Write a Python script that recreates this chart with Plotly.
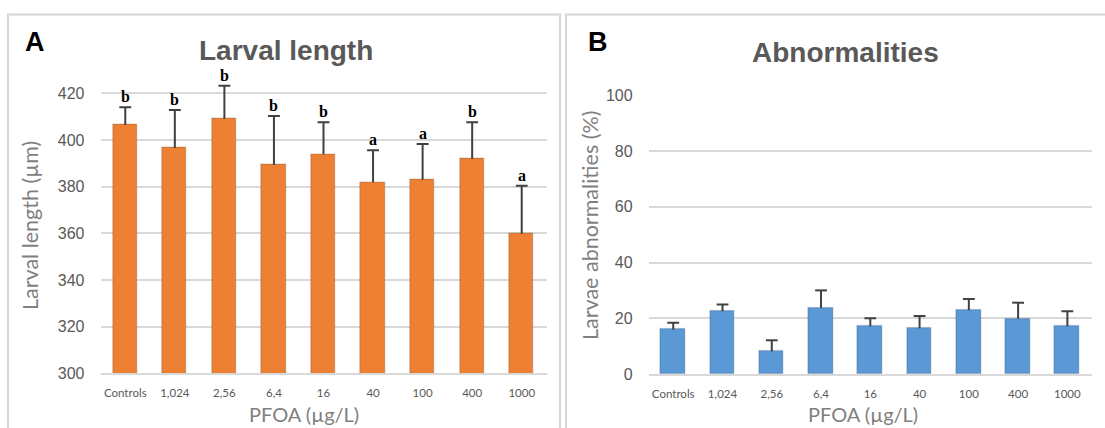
import plotly.graph_objects as go

# PFOA exposure groups
groups = ["Controls", "1,024", "2,56", "6,4", "16", "40", "100", "400", "1000"]

# Panel A: larval length (µm), mean and SD
length_mean = [406.4, 396.6, 409.1, 389.3, 393.9, 381.9, 383.0, 391.9, 359.8]
length_sd = [7.6, 16.3, 14.2, 21.0, 13.7, 13.7, 15.3, 15.7, 20.6]
length_letters = ["b", "b", "b", "b", "b", "a", "a", "b", "a"]

# Panel B: larvae with abnormalities (%), mean and SD
abn_mean = [15.9, 22.5, 8.1, 23.7, 17.1, 16.4, 22.9, 19.8, 17.1]
abn_sd = [2.5, 2.4, 4.0, 6.3, 2.9, 4.4, 4.0, 5.8, 5.4]

W, H = 1105, 428

ORANGE = "#EE8034"
BLUE = "#5A98D6"
ERR = "#404040"
GRID = "#D9D9D9"
TXT = "#595959"
TITLE_GRAY = "#7F7F7F"
CAP = 0.12  # half-width of error-bar caps, in category units

pos = list(range(len(groups)))


def px_x(v):
    return v / W


def px_y(v):
    return 1 - v / H


def err_lines(means, sds):
    xs, ys = [], []
    for i, (m, s) in enumerate(zip(means, sds)):
        top = m + s
        xs += [i, i, None, i - CAP, i + CAP, None]
        ys += [m, top, None, top, top, None]
    return xs, ys


fig = go.Figure()

# ---- Panel A ----
fig.add_trace(go.Bar(
    x=pos, y=length_mean, width=0.49, base=0,
    marker=dict(color=ORANGE, line=dict(color="rgba(0,0,0,0.12)", width=1.5)),
    xaxis="x", yaxis="y", showlegend=False,
))
ex, ey = err_lines(length_mean, length_sd)
fig.add_trace(go.Scatter(
    x=ex, y=ey, mode="lines", line=dict(color=ERR, width=2),
    xaxis="x", yaxis="y", showlegend=False, cliponaxis=False,
))

# ---- Panel B ----
fig.add_trace(go.Bar(
    x=pos, y=abn_mean, width=0.5,
    marker=dict(color=BLUE, line=dict(color="rgba(0,0,0,0.12)", width=1.5)),
    xaxis="x2", yaxis="y2", showlegend=False,
))
ex2, ey2 = err_lines(abn_mean, abn_sd)
fig.add_trace(go.Scatter(
    x=ex2, y=ey2, mode="lines", line=dict(color=ERR, width=2),
    xaxis="x2", yaxis="y2", showlegend=False, cliponaxis=False,
))

xaxis_common = dict(
    range=[-0.5, len(groups) - 0.5], tickvals=pos, ticktext=groups,
    showgrid=False, zeroline=False, showline=True, linecolor=GRID, linewidth=1.5,
    ticks="", ticklabelstandoff=8, automargin=False,
    tickfont=dict(family="Lato", size=11.5, color=TXT),
)
yaxis_common = dict(
    showgrid=True, gridcolor=GRID, gridwidth=1.5, zeroline=False, showline=False,
    ticks="", ticklabelstandoff=15, automargin=False,
    tickfont=dict(family="Liberation Sans", size=16, color=TXT),
)

fig.update_layout(
    template="none",
    width=W, height=H, margin=dict(l=0, r=0, t=0, b=0, pad=0, autoexpand=False),
    paper_bgcolor="white", plot_bgcolor="white",
    bargap=0, showlegend=False,
    xaxis=dict(domain=[px_x(100.5), px_x(546.5)], anchor="y", **xaxis_common),
    yaxis=dict(domain=[px_y(373.3), px_y(81.7)], anchor="x", range=[300, 425],
               tickvals=[300, 320, 340, 360, 380, 400, 420], **yaxis_common),
    xaxis2=dict(domain=[px_x(648.6), px_x(1092)], anchor="y2", **xaxis_common),
    yaxis2=dict(domain=[px_y(374), px_y(95.3)], anchor="x2", range=[0, 100],
                tickvals=[0, 20, 40, 60, 80, 100], **yaxis_common),
)

# Panel frames (open at the bottom / right edge of the page)
fig.add_shape(type="rect", xref="paper", yref="paper",
              x0=px_x(8), x1=px_x(560), y0=-0.2, y1=px_y(14.5),
              line=dict(color="#D6D6D6", width=2), fillcolor="rgba(0,0,0,0)", layer="below")
fig.add_shape(type="rect", xref="paper", yref="paper",
              x0=px_x(566), x1=1.2, y0=-0.2, y1=px_y(14.5),
              line=dict(color="#D6D6D6", width=2), fillcolor="rgba(0,0,0,0)", layer="below")

ann = []
# Panel letters
ann.append(dict(text="<b>A</b>", x=px_x(23), y=px_y(42), xref="paper", yref="paper",
                xanchor="left", yanchor="middle", showarrow=False,
                font=dict(family="Liberation Sans", size=27, color="black")))
ann.append(dict(text="<b>B</b>", x=px_x(586), y=px_y(42), xref="paper", yref="paper",
                xanchor="left", yanchor="middle", showarrow=False,
                font=dict(family="Liberation Sans", size=27, color="black")))
# Chart titles
ann.append(dict(text="<b>Larval length</b>", x=px_x(285.5), y=px_y(51), xref="paper", yref="paper",
                xanchor="center", yanchor="middle", showarrow=False,
                font=dict(family="Liberation Sans", size=28, color=TXT)))
ann.append(dict(text="<b>Abnormalities</b>", x=px_x(846), y=px_y(52), xref="paper", yref="paper",
                xanchor="center", yanchor="middle", showarrow=False,
                font=dict(family="Liberation Sans", size=28, color=TXT)))
# Axis titles
ann.append(dict(text="Larval length (µm)", x=px_x(30), y=px_y(226), xref="paper", yref="paper",
                xanchor="center", yanchor="middle", textangle=-90, showarrow=False,
                font=dict(family="Lato", size=21.5, color=TITLE_GRAY)))
ann.append(dict(text="Larvae abnormalities (%)", x=px_x(590), y=px_y(226), xref="paper", yref="paper",
                xanchor="center", yanchor="middle", textangle=-90, showarrow=False,
                font=dict(family="Lato", size=21.5, color=TITLE_GRAY)))
ann.append(dict(text="PFOA (µg/L)", x=px_x(304), y=px_y(414), xref="paper", yref="paper",
                xanchor="center", yanchor="middle", showarrow=False,
                font=dict(family="Lato", size=20, color=TITLE_GRAY)))
ann.append(dict(text="PFOA (µg/L)", x=px_x(863), y=px_y(414), xref="paper", yref="paper",
                xanchor="center", yanchor="middle", showarrow=False,
                font=dict(family="Lato", size=20, color=TITLE_GRAY)))
# Significance letters above the error bars
for i, (m, s, lt) in enumerate(zip(length_mean, length_sd, length_letters)):
    ann.append(dict(text=f"<b>{lt}</b>", x=i, y=m + s, xref="x", yref="y",
                    xanchor="center", yanchor="bottom", showarrow=False,
                    font=dict(family="Liberation Serif", size=16, color="black")))

fig.update_layout(annotations=ann)

fig.write_html("out.html")
